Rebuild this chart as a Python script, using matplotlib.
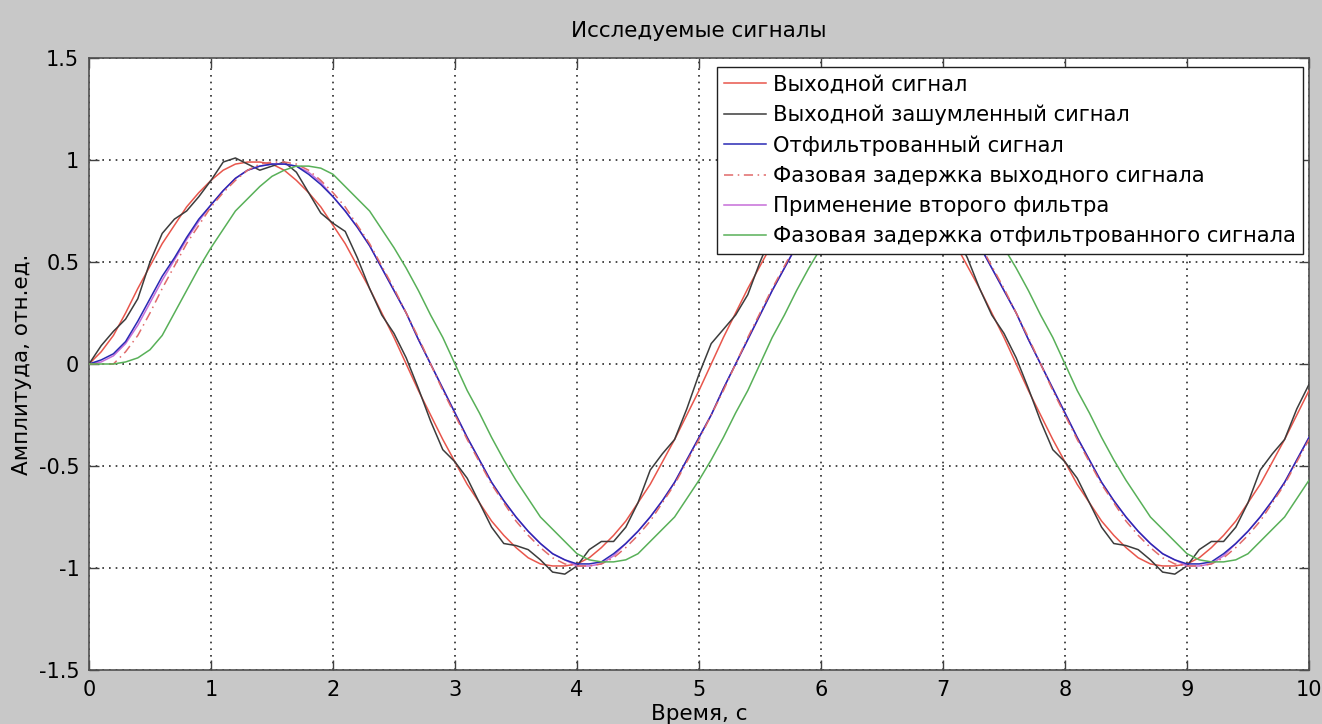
import numpy as np
import matplotlib
matplotlib.use("Agg")
import matplotlib.pyplot as plt

plt.rcParams["font.family"] = ["DejaVu Sans"]

# time grid, s
time_s = np.linspace(0.0, 10.0, 101)

# output signal
output_clean = [
    0.00, 0.06, 0.14, 0.25, 0.37, 0.48, 0.59, 0.68, 0.77, 0.84,
    0.90, 0.95, 0.98, 0.99, 0.99, 0.98, 0.95, 0.90, 0.84, 0.77,
    0.68, 0.59, 0.48, 0.37, 0.25, 0.13, 0.00, -0.13, -0.25, -0.37,
    -0.48, -0.59, -0.68, -0.77, -0.84, -0.90, -0.95, -0.98, -0.99, -0.99,
    -0.98, -0.95, -0.90, -0.84, -0.77, -0.68, -0.59, -0.48, -0.37, -0.25,
    -0.13, 0.00, 0.13, 0.25, 0.37, 0.48, 0.59, 0.68, 0.77, 0.84,
    0.90, 0.95, 0.98, 0.99, 0.99, 0.98, 0.95, 0.90, 0.84, 0.77,
    0.68, 0.59, 0.48, 0.37, 0.25, 0.13, 0.00, -0.13, -0.25, -0.37,
    -0.48, -0.59, -0.68, -0.77, -0.84, -0.90, -0.95, -0.98, -0.99, -0.99,
    -0.98, -0.95, -0.90, -0.84, -0.77, -0.68, -0.59, -0.48, -0.37, -0.25,
    -0.13,
]

# output signal with noise
output_noisy = [
    0.00, 0.09, 0.16, 0.22, 0.32, 0.50, 0.64, 0.71, 0.75, 0.82,
    0.90, 0.99, 1.01, 0.98, 0.95, 0.97, 0.99, 0.94, 0.84, 0.74,
    0.69, 0.65, 0.52, 0.37, 0.24, 0.15, 0.03, -0.12, -0.28, -0.42,
    -0.48, -0.56, -0.68, -0.80, -0.88, -0.89, -0.91, -0.96, -1.02, -1.03,
    -0.99, -0.91, -0.87, -0.87, -0.80, -0.68, -0.52, -0.44, -0.37, -0.22,
    -0.05, 0.10, 0.17, 0.24, 0.34, 0.50, 0.64, 0.71, 0.76, 0.82,
    0.90, 0.99, 1.01, 0.98, 0.95, 0.97, 0.99, 0.94, 0.84, 0.74,
    0.69, 0.64, 0.52, 0.37, 0.24, 0.15, 0.03, -0.12, -0.28, -0.42,
    -0.48, -0.56, -0.68, -0.80, -0.88, -0.89, -0.91, -0.96, -1.02, -1.03,
    -0.99, -0.91, -0.87, -0.87, -0.80, -0.68, -0.52, -0.44, -0.37, -0.22,
    -0.10,
]

# filtered signal
filtered = [
    0.00, 0.02, 0.05, 0.11, 0.21, 0.32, 0.43, 0.52, 0.62, 0.71,
    0.78, 0.85, 0.91, 0.95, 0.97, 0.98, 0.98, 0.97, 0.93, 0.88,
    0.82, 0.75, 0.67, 0.58, 0.47, 0.36, 0.25, 0.12, 0.00, -0.12,
    -0.24, -0.36, -0.47, -0.58, -0.67, -0.75, -0.82, -0.88, -0.93, -0.96,
    -0.98, -0.98, -0.97, -0.93, -0.88, -0.82, -0.75, -0.67, -0.58, -0.47,
    -0.36, -0.25, -0.12, 0.00, 0.12, 0.24, 0.36, 0.47, 0.58, 0.67,
    0.75, 0.82, 0.88, 0.93, 0.96, 0.98, 0.98, 0.97, 0.93, 0.88,
    0.82, 0.75, 0.67, 0.58, 0.47, 0.36, 0.25, 0.12, 0.00, -0.12,
    -0.24, -0.36, -0.47, -0.58, -0.67, -0.75, -0.82, -0.88, -0.93, -0.96,
    -0.98, -0.98, -0.97, -0.93, -0.88, -0.82, -0.75, -0.67, -0.58, -0.47,
    -0.36,
]

# output signal shifted by the filter phase delay
output_delayed = [
    0.00, 0.00, 0.00, 0.06, 0.14, 0.25, 0.37, 0.48, 0.59, 0.68,
    0.77, 0.84, 0.90, 0.95, 0.98, 0.99, 0.99, 0.98, 0.95, 0.90,
    0.84, 0.77, 0.68, 0.59, 0.48, 0.37, 0.25, 0.13, 0.00, -0.13,
    -0.25, -0.37, -0.48, -0.59, -0.68, -0.77, -0.84, -0.90, -0.95, -0.98,
    -0.99, -0.99, -0.98, -0.95, -0.90, -0.84, -0.77, -0.68, -0.59, -0.48,
    -0.37, -0.25, -0.13, 0.00, 0.13, 0.25, 0.37, 0.48, 0.59, 0.68,
    0.77, 0.84, 0.90, 0.95, 0.98, 0.99, 0.99, 0.98, 0.95, 0.90,
    0.84, 0.77, 0.68, 0.59, 0.48, 0.37, 0.25, 0.13, 0.00, -0.13,
    -0.25, -0.37, -0.48, -0.59, -0.68, -0.77, -0.84, -0.90, -0.95, -0.98,
    -0.99, -0.99, -0.98, -0.95, -0.90, -0.84, -0.77, -0.68, -0.59, -0.48,
    -0.37,
]

# second filter applied
second_filter = [
    0.00, 0.01, 0.04, 0.10, 0.19, 0.30, 0.41, 0.51, 0.61, 0.70,
    0.78, 0.85, 0.91, 0.95, 0.97, 0.98, 0.98, 0.97, 0.94, 0.89,
    0.82, 0.75, 0.67, 0.58, 0.47, 0.36, 0.25, 0.12, 0.00, -0.12,
    -0.24, -0.36, -0.47, -0.58, -0.67, -0.75, -0.82, -0.88, -0.93, -0.96,
    -0.99, -0.99, -0.98, -0.94, -0.88, -0.82, -0.75, -0.67, -0.58, -0.47,
    -0.36, -0.25, -0.12, 0.00, 0.12, 0.24, 0.36, 0.47, 0.58, 0.67,
    0.75, 0.82, 0.88, 0.93, 0.96, 0.98, 0.98, 0.97, 0.94, 0.89,
    0.82, 0.75, 0.67, 0.58, 0.47, 0.36, 0.25, 0.12, 0.00, -0.12,
    -0.24, -0.36, -0.47, -0.58, -0.67, -0.75, -0.82, -0.88, -0.93, -0.96,
    -0.99, -0.99, -0.98, -0.94, -0.88, -0.82, -0.75, -0.67, -0.58, -0.47,
    -0.36,
]

# filtered signal shifted by the phase delay
filtered_delayed = [
    0.00, 0.00, 0.00, 0.01, 0.03, 0.07, 0.14, 0.25, 0.36, 0.47,
    0.57, 0.66, 0.75, 0.81, 0.87, 0.92, 0.95, 0.97, 0.97, 0.96,
    0.93, 0.87, 0.81, 0.75, 0.66, 0.57, 0.47, 0.36, 0.24, 0.13,
    0.00, -0.13, -0.24, -0.36, -0.47, -0.57, -0.66, -0.75, -0.81, -0.87,
    -0.93, -0.96, -0.97, -0.97, -0.96, -0.93, -0.87, -0.81, -0.75, -0.66,
    -0.57, -0.47, -0.36, -0.24, -0.13, 0.00, 0.13, 0.24, 0.36, 0.47,
    0.57, 0.66, 0.75, 0.81, 0.87, 0.92, 0.95, 0.97, 0.97, 0.96,
    0.93, 0.87, 0.81, 0.75, 0.66, 0.57, 0.47, 0.36, 0.24, 0.13,
    0.00, -0.13, -0.24, -0.36, -0.47, -0.57, -0.66, -0.75, -0.81, -0.87,
    -0.93, -0.96, -0.97, -0.97, -0.96, -0.93, -0.87, -0.81, -0.75, -0.66,
    -0.57,
]

labels = [
    "Выходной сигнал",
    "Выходной зашумленный сигнал",
    "Отфильтрованный сигнал",
    "Фазовая задержка выходного сигнала",
    "Применение второго фильтра",
    "Фазовая задержка отфильтрованного сигнала",
]

fig = plt.figure(figsize=(13.22, 7.24), dpi=100, facecolor="#c8c8c8")
ax = fig.add_axes([89 / 1322, 1 - 670 / 724, 1220 / 1322, 612 / 724])
ax.set_facecolor("white")

ax.plot(time_s, output_clean, color="#e8564c", lw=1.1, label=labels[0], zorder=3)
ax.plot(time_s, output_noisy, color="#3c3c3c", lw=1.1, label=labels[1], zorder=4)
ax.plot(time_s, filtered, color="#2a2ab4", lw=1.1, label=labels[2], zorder=6)
ax.plot(time_s, output_delayed, color="#e06a6a", lw=1.1, ls=(0, (6, 3, 1, 3)),
        label=labels[3], zorder=7)
ax.plot(time_s, second_filter, color="#c66ed8", lw=1.1, label=labels[4], zorder=5)
ax.plot(time_s, filtered_delayed, color="#58b058", lw=1.1, label=labels[5], zorder=8)

ax.set_xlim(0, 10)
ax.set_ylim(-1.5, 1.5)
ax.set_xticks(np.arange(0, 11, 1))
ax.set_yticks([-1.5, -1, -0.5, 0, 0.5, 1, 1.5])
ax.set_xticklabels([str(v) for v in range(11)])
ax.set_yticklabels(["-1.5", "-1", "-0.5", "0", "0.5", "1", "1.5"])

ax.grid(True, color="#2a2a2a", linestyle=(0, (1, 3)), linewidth=1.2)
ax.set_axisbelow(True)
ax.tick_params(direction="in", length=7, width=1.0, top=True, right=True,
               color="#404040", labelsize=15, pad=7)
for side in ax.spines.values():
    side.set_color("#505050")
    side.set_linewidth(1.2)

fig.text(699 / 1322, 1 - 31 / 724, "Исследуемые сигналы", fontsize=15.5,
         ha="center", va="center")
ax.set_xlabel("Время, с", fontsize=15.5, va="center")
ax.xaxis.set_label_coords(0.5, -(714 - 670) / 612)
ax.set_ylabel("Амплитуда, отн.ед.", fontsize=15.5, va="center")
ax.yaxis.set_label_coords(-(89 - 22) / 1220, 0.5)

leg = ax.legend(loc="upper right", bbox_to_anchor=(0.995, 0.985), borderaxespad=0,
                fontsize=15.2, fancybox=False, framealpha=1, edgecolor="#202020",
                handlelength=2.0, handletextpad=0.3, labelspacing=0.48,
                borderpad=0.35)
leg.get_frame().set_linewidth(1.0)
leg.set_zorder(20)

fig.savefig("out.png", dpi=100, facecolor=fig.get_facecolor())
